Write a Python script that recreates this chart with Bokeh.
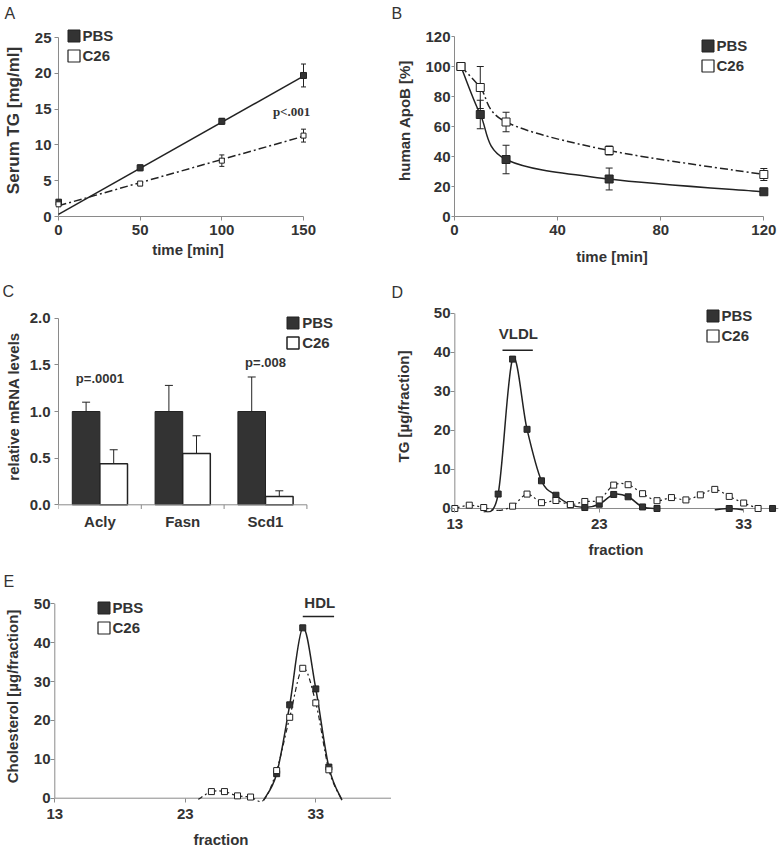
import math
from bokeh.plotting import figure
from bokeh.models import (ColumnDataSource, Whisker, TeeHead, Label, Legend,
                          LegendItem, Range1d, FixedTicker, NumeralTickFormatter)
from bokeh.layouts import column, row
from bokeh.embed import file_html
from bokeh.resources import INLINE

NaN = float("nan")

# ---------------- data ----------------
# A: serum TG after lipase block
a_time = [0, 50, 100, 150]
a_pbs = [2.0, 6.8, 13.3, 19.7]
a_pbs_err = [0.3, 0.4, 0.4, 1.6]
a_c26 = [1.7, 4.6, 7.8, 11.3]
a_c26_err = [0.3, 0.3, 0.8, 0.9]
a_fit_time = [0, 150]
a_pbs_fit = [0.3, 19.6]
a_c26_fit = [1.5, 11.2]
a_xticks = [0, 50, 100, 150]
a_yticks = [0, 5, 10, 15, 20, 25]

# B: human ApoB clearance
b_time = [2.5, 10, 20, 60, 120]
b_pbs = [100, 68, 38, 25, 16.5]
b_pbs_err = [0, 9.5, 9.5, 7.3, 1.0]
b_c26 = [100, 86, 63, 44, 28]
b_c26_err = [0, 14, 6.5, 3, 4]
b_xticks = [0, 40, 80, 120]
b_yticks = [0, 20, 40, 60, 80, 100, 120]

# C: relative mRNA levels
c_genes = ["Acly", "Fasn", "Scd1"]
c_pbs = [1.0, 1.0, 1.0]
c_pbs_err = [0.1, 0.28, 0.37]
c_c26 = [0.44, 0.55, 0.09]
c_c26_err = [0.15, 0.19, 0.06]
c_pvals = ["p=.0001", "", "p=.008"]
c_yticks = [0, 0.5, 1.0, 1.5, 2.0]

# D: TG per FPLC fraction
d_fraction = list(range(13, 36))
d_pbs = [NaN, NaN, -1.0, 3.7, 38.3, 20.3, 7.1, 3.4, 1.0, 0.25, 1.1, 3.6, 3.0,
         0.4, 0.0, NaN, NaN, NaN, -0.3, 0.0, -0.3, NaN, 0.0]
d_c26 = [0.0, 0.85, 0.25, -0.5, 0.6, 3.7, 1.5, 2.05, 1.0, 1.8, 2.2, 6.0, 6.1,
         3.8, 2.0, 2.8, 2.2, 3.5, 4.9, 3.1, 1.4, 0.0, NaN]
d_xticks = [13, 23, 33]
d_yticks = [0, 10, 20, 30, 40, 50]

# E: cholesterol per FPLC fraction
e_fraction = list(range(24, 36))
e_pbs = [NaN, NaN, NaN, NaN, NaN, -0.5, 6.3, 24.0, 43.8, 28.1, 8.0, -0.5]
e_c26 = [-0.3, 1.7, 1.7, 0.6, 0.3, -0.5, 7.1, 20.8, 33.4, 24.5, 7.3, -0.5]
e_xticks = [13, 23, 33]
e_yticks = [0, 10, 20, 30, 40, 50]

# ---------------- style ----------------
FONT = "Liberation Sans"
TXT = "#333333"
AXC = "#8a8a8a"
INK = "#222222"
BAR = "#333333"


def new_fig(w, h, frame, xr, yr, letter, letter_x, letter_standoff):
    l, r, t, b = frame
    p = figure(width=w, height=h, x_range=xr, y_range=yr,
               min_border_left=l, min_border_right=w - r,
               min_border_top=t, min_border_bottom=h - b,
               output_backend="svg", toolbar_location=None, title=letter)
    p.outline_line_color = None
    p.grid.visible = False
    p.background_fill_color = "white"
    p.border_fill_color = "white"
    p.title.align = "left"
    p.title.offset = letter_x - l
    p.title.standoff = letter_standoff
    p.title.text_font = FONT
    p.title.text_font_style = "normal"
    p.title.text_font_size = "16px"
    p.title.text_color = TXT
    return p


def style_axis(ax, ticks, bounds, tick_in=0, tick_out=4, std=3, label=None,
               label_std=5, line=True, label_size="15px"):
    ax.ticker = ticks
    ax.bounds = bounds
    ax.axis_line_color = AXC if line else None
    ax.axis_line_width = 1
    ax.major_tick_line_color = AXC
    ax.minor_tick_line_color = None
    ax.major_tick_in = tick_in
    ax.major_tick_out = tick_out
    ax.major_label_standoff = std
    ax.major_label_text_font = FONT
    ax.major_label_text_font_style = "bold"
    ax.major_label_text_font_size = "15px"
    ax.major_label_text_color = TXT
    ax.axis_label = label
    ax.axis_label_standoff = label_std
    ax.axis_label_text_font = FONT
    ax.axis_label_text_font_style = "bold"
    ax.axis_label_text_font_size = label_size
    ax.axis_label_text_color = TXT


def hline0(p, x0, x1):
    # x axis line drawn at value 0 inside a padded frame
    p.segment(x0=[x0], y0=[0], x1=[x1], y1=[0], line_color=AXC, line_width=1)


def vline(p, x, y0, y1):
    # y axis line drawn at the first x tick inside a padded frame
    p.segment(x0=[x], y0=[y0], x1=[x], y1=[y1], line_color=AXC, line_width=1)


def smooth(xs, ys):
    cols = {k: [] for k in ("x0", "y0", "x1", "y1", "cx0", "cy0", "cx1", "cy1")}
    runs, cur = [], []
    for x, y in zip(xs, ys):
        if y is None or math.isnan(y):
            if cur:
                runs.append(cur)
            cur = []
        else:
            cur.append((float(x), float(y)))
    if cur:
        runs.append(cur)
    for rn in runs:
        n = len(rn)
        for i in range(n - 1):
            p0 = rn[max(i - 1, 0)]
            p1 = rn[i]
            p2 = rn[i + 1]
            p3 = rn[min(i + 2, n - 1)]
            cols["x0"].append(p1[0]); cols["y0"].append(p1[1])
            cols["x1"].append(p2[0]); cols["y1"].append(p2[1])
            cols["cx0"].append(p1[0] + (p2[0] - p0[0]) / 6)
            cols["cy0"].append(p1[1] + (p2[1] - p0[1]) / 6)
            cols["cx1"].append(p2[0] - (p3[0] - p1[0]) / 6)
            cols["cy1"].append(p2[1] - (p3[1] - p1[1]) / 6)
    return ColumnDataSource(cols)


def draw_curve(p, xs, ys, dash="solid", width=1.5):
    p.bezier(x0="x0", y0="y0", x1="x1", y1="y1", cx0="cx0", cy0="cy0",
             cx1="cx1", cy1="cy1", source=smooth(xs, ys), line_color=INK,
             line_width=width, line_dash=dash)


def shown(xs, ys):
    keep = [i for i, y in enumerate(ys) if not math.isnan(y) and y >= 0]
    return ColumnDataSource(dict(x=[xs[i] for i in keep], y=[ys[i] for i in keep]))


def markers(p, xs, ys, filled, size):
    p.scatter("x", "y", source=shown(xs, ys), marker="square", size=size,
              fill_color=BAR if filled else "white", line_color=INK,
              line_width=1)


def err_bars(p, xs, ys, errs, head=6):
    keep = [i for i, e in enumerate(errs) if e > 0]
    src = ColumnDataSource(dict(
        x=[xs[i] for i in keep],
        lo=[ys[i] - errs[i] for i in keep],
        hi=[ys[i] + errs[i] for i in keep]))
    p.add_layout(Whisker(source=src, base="x", lower="lo", upper="hi",
                         dimension="height", line_color=INK, line_width=1,
                         upper_head=TeeHead(size=head, line_color=INK, line_width=1),
                         lower_head=TeeHead(size=head, line_color=INK, line_width=1)))


def legend(p, r_pbs, r_c26, loc):
    lg = Legend(items=[LegendItem(label="PBS", renderers=[r_pbs]),
                       LegendItem(label="C26", renderers=[r_c26])],
                location=loc, orientation="vertical",
                glyph_width=15, glyph_height=15, label_standoff=2, spacing=3,
                padding=0, margin=0, label_height=15, label_width=10,
                border_line_alpha=0, background_fill_alpha=0,
                label_text_font=FONT, label_text_font_style="bold",
                label_text_font_size="15px", label_text_color=TXT)
    p.add_layout(lg)


def proxies(p, x, y):
    # invisible renderers that only lend their box style to the legend
    r1 = p.vbar(x=[x], top=[y], width=1, fill_color=BAR, line_color=INK,
                line_width=1, visible=False)
    r2 = p.vbar(x=[x], top=[y], width=1, fill_color="white", line_color=INK,
                line_width=1.2, visible=False)
    return r1, r2


# ---------------- Panel A ----------------
pA = new_fig(391, 280, (54, 320, 24, 216), Range1d(-1.83, 160.4), Range1d(0, 26.82),
             "A", 3, 5)
style_axis(pA.xaxis[0], a_xticks, (0, 150), tick_out=4, std=4,
           label="time [min]", label_std=3)
style_axis(pA.yaxis[0], a_yticks, (0, 25), tick_in=3, tick_out=1, std=3,
           label="Serum TG [mg/ml]", label_std=9, line=False, label_size="17px")
vline(pA, a_xticks[0], a_yticks[0], a_yticks[-1])
pA.line(a_fit_time, a_c26_fit, line_color=INK, line_width=1.5, line_dash="8 3 2 3")
pA.line(a_fit_time, a_pbs_fit, line_color=INK, line_width=1.5)
err_bars(pA, a_time, a_pbs, a_pbs_err, head=5)
err_bars(pA, a_time, a_c26, a_c26_err, head=5)
markers(pA, a_time, a_pbs, True, 6)
markers(pA, a_time, a_c26, False, 5)
pA.add_layout(Label(x=142.7, y=14.7, text="p<.001", text_font="Liberation Serif",
                    text_font_style="bold", text_font_size="13px", text_color=TXT,
                    text_align="center", text_baseline="middle"))
ra1, ra2 = proxies(pA, a_time[0], a_pbs[0])
legend(pA, ra1, ra2, (10.5, 152.5))

# ---------------- Panel B ----------------
pB = new_fig(391, 280, (63, 378, 24, 216), Range1d(0, 122.2), Range1d(0, 128),
             "B", 0, 5)
style_axis(pB.xaxis[0], b_xticks, (0, 120), tick_out=4, std=4,
           label="time [min]", label_std=10)
style_axis(pB.yaxis[0], b_yticks, (0, 120), tick_out=3, std=1,
           label="human ApoB [%]", label_std=9)
draw_curve(pB, b_time, b_c26, dash="8 3 2 3")
draw_curve(pB, b_time, b_pbs)
err_bars(pB, b_time, b_pbs, b_pbs_err, head=7)
err_bars(pB, b_time, b_c26, b_c26_err, head=7)
markers(pB, b_time, b_pbs, True, 8)
markers(pB, b_time, b_c26, False, 8)
rb1, rb2 = proxies(pB, b_time[0], b_pbs[0])
legend(pB, rb1, rb2, (245.5, 142.2))

# ---------------- Panel C ----------------
c_pos = [i + 0.5 for i in range(len(c_genes))]
pC = new_fig(391, 290, (58, 345, 20, 232), Range1d(0, 3.466), Range1d(-0.0825, 2.19),
             "C", 2, 1)
style_axis(pC.xaxis[0], FixedTicker(ticks=c_pos), (0, len(c_genes)),
           tick_out=0, std=0, line=False)
pC.xaxis[0].major_label_overrides = {x: g for x, g in zip(c_pos, c_genes)}
style_axis(pC.yaxis[0], c_yticks, (0, 2), tick_out=4, std=4,
           label="relative mRNA levels", label_std=5)
pC.yaxis[0].formatter = NumeralTickFormatter(format="0.0")
srcC = ColumnDataSource(dict(
    xp=[x - 1 / 6 for x in c_pos], xc=[x + 1 / 6 for x in c_pos],
    pbs=c_pbs, c26=c_c26,
    pbs_top=[v + e for v, e in zip(c_pbs, c_pbs_err)],
    c26_top=[v + e for v, e in zip(c_c26, c_c26_err)]))
pC.segment(x0="xp", y0="pbs", x1="xp", y1="pbs_top", source=srcC, line_color=INK, line_width=1)
pC.segment(x0="xc", y0="c26", x1="xc", y1="c26_top", source=srcC, line_color=INK, line_width=1)
pC.scatter(x="xp", y="pbs_top", source=srcC, marker="dash", size=8, line_color=INK, line_width=1)
pC.scatter(x="xc", y="c26_top", source=srcC, marker="dash", size=8, line_color=INK, line_width=1)
rc1 = pC.vbar(x="xp", top="pbs", width=1 / 3, source=srcC, fill_color=BAR,
              line_color=INK, line_width=1)
rc2 = pC.vbar(x="xc", top="c26", width=1 / 3, source=srcC, fill_color="white",
              line_color=INK, line_width=1.5)
hline0(pC, 0, len(c_genes))
# category boundary ticks below the axis line
pC.segment(x0=list(range(len(c_genes) + 1)), y0=[0] * (len(c_genes) + 1),
           x1=list(range(len(c_genes) + 1)), y1=[-0.045] * (len(c_genes) + 1),
           line_color=AXC, line_width=1)
pval_y = [1.35, None, 1.53]
for x, txt, yy in zip(c_pos, c_pvals, pval_y):
    if txt:
        pC.add_layout(Label(x=x, y=yy, text=txt, text_font=FONT,
                            text_font_style="bold", text_font_size="13px",
                            text_color=TXT, text_align="center", text_baseline="middle"))
legend(pC, rc1, rc2, (227.2, 161.5))

# ---------------- Panel D ----------------
pD = new_fig(391, 290, (59, 390, 20, 232), Range1d(12.70, 35.62), Range1d(-1.026, 53.33),
             "D", 0, 0)
style_axis(pD.xaxis[0], d_xticks, (13, 35.4), tick_in=4, tick_out=0, std=6,
           label="fraction", label_std=9, line=False)
style_axis(pD.yaxis[0], d_yticks, (0, 50), tick_in=4, tick_out=0, std=0,
           label="TG [µg/fraction]", label_std=19, line=False)
hline0(pD, d_xticks[0], 35.4)
vline(pD, d_xticks[0], d_yticks[0], d_yticks[-1])
draw_curve(pD, d_fraction, d_c26, dash="5 3 2 3", width=1.2)
draw_curve(pD, d_fraction, d_pbs, width=1.5)
markers(pD, d_fraction, d_pbs, True, 6)
markers(pD, d_fraction, d_c26, False, 6)
pD.segment(x0=[16.3], y0=[40.6], x1=[18.4], y1=[40.6], line_color=INK, line_width=1.5)
pD.add_layout(Label(x=17.4, y=44.9, text="VLDL", text_font=FONT, text_font_style="bold",
                    text_font_size="15px", text_color=TXT, text_align="center",
                    text_baseline="middle"))
rd1, rd2 = proxies(pD, d_fraction[4], d_pbs[4])
legend(pD, rd1, rd2, (254.5, 168.2))

# ---------------- Panel E ----------------
pE = new_fig(391, 283, (49, 391, 20, 232), Range1d(12.67, 38.8), Range1d(-1.105, 53.4),
             "E", 2, 1)
style_axis(pE.xaxis[0], e_xticks, (13, 38.8), tick_in=4, tick_out=0, std=6,
           label="fraction", label_std=9, line=False)
style_axis(pE.yaxis[0], e_yticks, (0, 50), tick_in=4, tick_out=0, std=0,
           label="Cholesterol [µg/fraction]", label_std=10, line=False)
hline0(pE, e_xticks[0], 38.8)
vline(pE, e_xticks[0], e_yticks[0], e_yticks[-1])
draw_curve(pE, e_fraction, e_pbs, width=1.5)
draw_curve(pE, e_fraction, e_c26, dash="5 3 2 3", width=1.2)
markers(pE, e_fraction, e_pbs, True, 6)
markers(pE, e_fraction, e_c26, False, 6)
pE.segment(x0=[32.0], y0=[46.7], x1=[34.4], y1=[46.7], line_color=INK, line_width=1.5)
pE.add_layout(Label(x=33.3, y=50.2, text="HDL", text_font=FONT, text_font_style="bold",
                    text_font_size="15px", text_color=TXT, text_align="center",
                    text_baseline="middle"))
re1, re2 = proxies(pE, e_fraction[8], e_pbs[8])
legend(pE, re1, re2, (45.5, 165.8))

layout = column(row(pA, pB), row(pC, pD), pE)
open("out.html", "w").write(file_html(layout, INLINE))
